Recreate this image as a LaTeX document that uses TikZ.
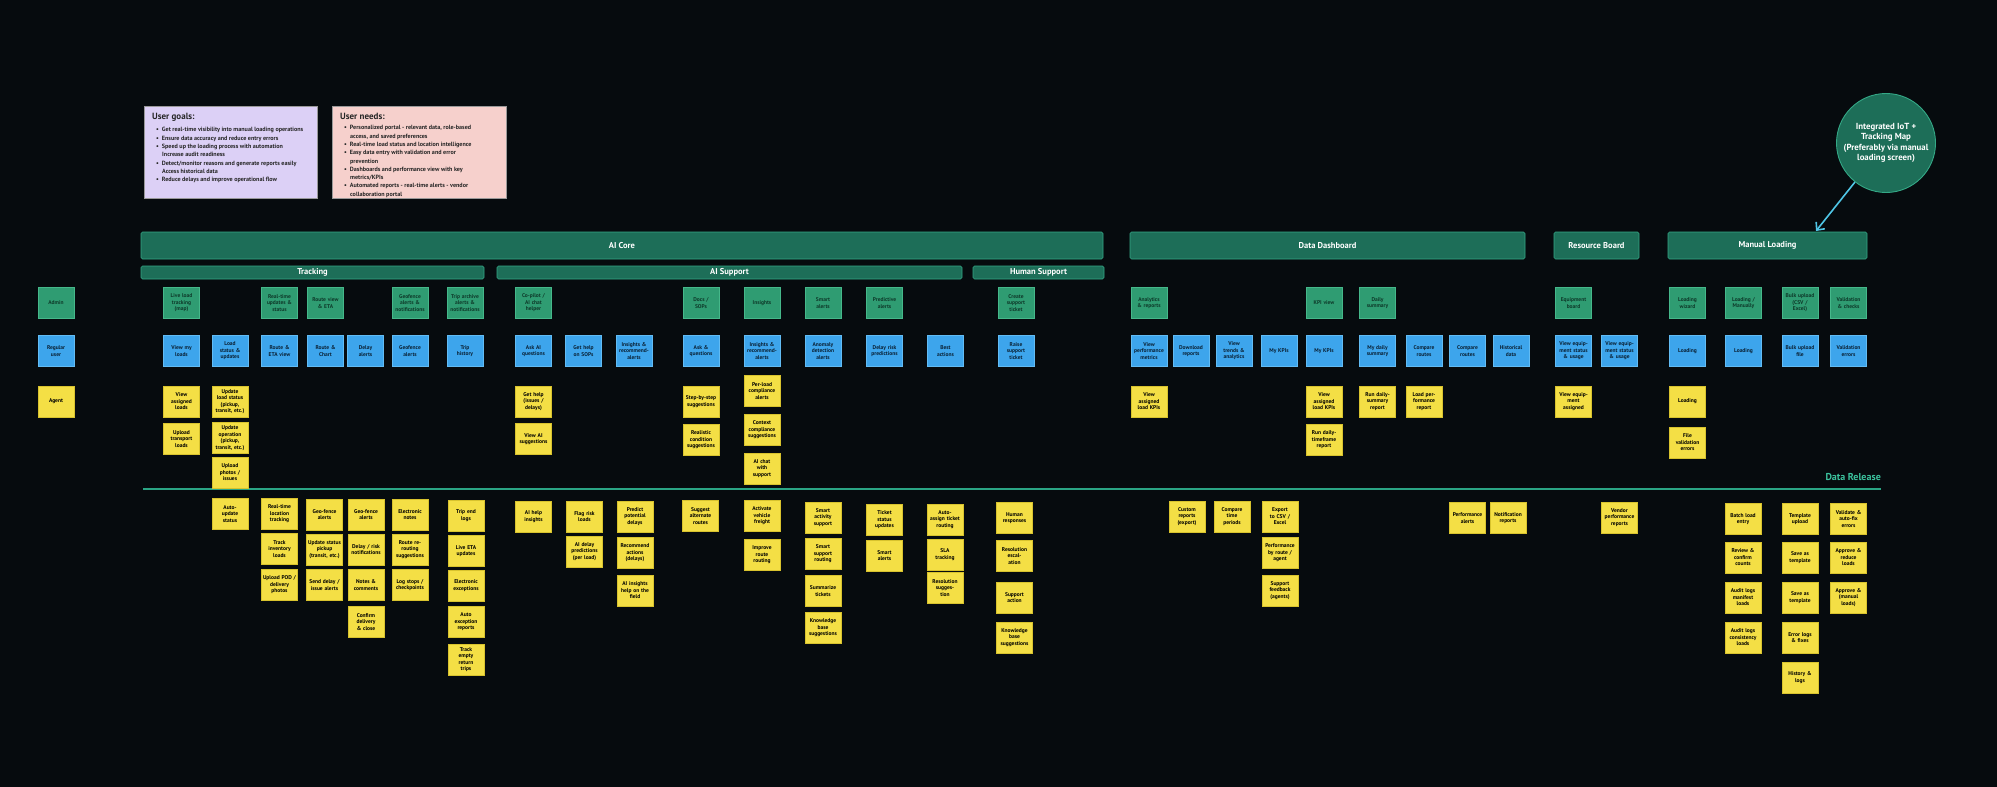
\documentclass[tikz,border=0pt]{standalone}
\usepackage{fontspec}
\setmainfont{PT Sans}
\usetikzlibrary{arrows.meta}
\definecolor{bgc}{HTML}{060B0E}
\definecolor{sgreen}{HTML}{2F9C72}
\definecolor{sgreenb}{HTML}{45B88A}
\definecolor{sgreent}{HTML}{0E3A2A}
\definecolor{sblue}{HTML}{3DA5EC}
\definecolor{sblueb}{HTML}{62BCF4}
\definecolor{sbluet}{HTML}{0A2236}
\definecolor{syellow}{HTML}{F4DF45}
\definecolor{syellowb}{HTML}{D8C32E}
\definecolor{hdrfill}{HTML}{1D6E58}
\definecolor{hdrdraw}{HTML}{34A886}
\definecolor{relc}{HTML}{2AA584}
\definecolor{reltxt}{HTML}{3CC39E}
\definecolor{goalc}{HTML}{DCD0F6}
\definecolor{needc}{HTML}{F6D0CC}
\definecolor{arrc}{HTML}{4FC6E6}
\newcommand\stickyat[5]{\node[#1] (#2) at (#3,#4) {#5};}
\begin{document}
\begin{tikzpicture}[x=1pt,y=-1pt,
  sticky/.style={minimum width=36pt, minimum height=31pt, inner xsep=1pt, inner ysep=1pt,
    text width=34pt, align=center, line width=0.6pt,
    font=\fontsize{5.5}{6.5}\selectfont\bfseries},
  gs/.style={sticky, fill=sgreen, draw=sgreenb, text=sgreent},
  bs/.style={sticky, fill=sblue, draw=sblueb, text=sbluet},
  ys/.style={sticky, fill=syellow, draw=syellowb, text=black},
  hdr/.style={fill=hdrfill, draw=hdrdraw, line width=0.6pt, rounded corners=1.5pt,
    text=white, inner sep=0pt, font=\fontsize{8.5}{10}\selectfont\bfseries},
  goalbox/.style={draw=black!40, line width=0.4pt, inner sep=0pt},
  goaltext/.style={anchor=north west, inner sep=0pt, align=left, text=black!85,
    font=\fontsize{6.1}{8.3}\selectfont\bfseries}
]
\fill[bgc] (0,0) rectangle (1997,787);
\useasboundingbox (0,0) rectangle (1997,787);

% goal boxes
\node[goalbox, fill=goalc, minimum width=173pt, minimum height=92pt] (goals) at (230.5,152) {};
\node[goaltext] (goalstxt) at (152,113) {{\fontsize{9}{11}\selectfont User goals:}\\[4pt]
\hspace*{4pt}\textbullet\hspace{3pt}Get real-time visibility into manual loading operations\\
\hspace*{4pt}\textbullet\hspace{3pt}Ensure data accuracy and reduce entry errors\\
\hspace*{4pt}\textbullet\hspace{3pt}Speed up the loading process with automation\\
\hspace*{10pt}Increase audit readiness\\
\hspace*{4pt}\textbullet\hspace{3pt}Detect/monitor reasons and generate reports easily\\
\hspace*{10pt}Access historical data\\
\hspace*{4pt}\textbullet\hspace{3pt}Reduce delays and improve operational flow};
\node[goalbox, fill=needc, minimum width=174pt, minimum height=92pt] (needs) at (419,152) {};
\node[goaltext] (needstxt) at (340,113) {{\fontsize{9}{11}\selectfont User needs:}\\[2pt]
\hspace*{4pt}\textbullet\hspace{3pt}Personalized portal - relevant data, role-based\\
\hspace*{10pt}access, and saved preferences\\
\hspace*{4pt}\textbullet\hspace{3pt}Real-time load status and location intelligence\\
\hspace*{4pt}\textbullet\hspace{3pt}Easy data entry with validation and error\\
\hspace*{10pt}prevention\\
\hspace*{4pt}\textbullet\hspace{3pt}Dashboards and performance view with key\\
\hspace*{10pt}metrics/KPIs\\
\hspace*{4pt}\textbullet\hspace{3pt}Automated reports - real-time alerts - vendor\\
\hspace*{10pt}collaboration portal};

% headers
\node[hdr, minimum width=962pt, minimum height=27pt] (aicore) at (622,245.5) {AI Core};
\node[hdr, minimum width=343pt, minimum height=13pt] (tracking) at (312.5,272.5) {Tracking};
\node[hdr, minimum width=465pt, minimum height=13pt] (aisupport) at (729.5,272.5) {AI Support};
\node[hdr, minimum width=131pt, minimum height=13pt] (humansup) at (1038.5,272.5) {Human Support};
\node[hdr, minimum width=395pt, minimum height=27pt] (datadash) at (1327.5,245.5) {Data Dashboard};
\node[hdr, minimum width=85pt, minimum height=27pt] (resboard) at (1596.5,245.5) {Resource Board};
\node[hdr, minimum width=199pt, minimum height=27pt] (manload) at (1767.5,245.5) {Manual Loading};

% IoT circle and arrow
\node[circle, fill=hdrfill, draw=hdrdraw, line width=0.9pt, minimum size=99pt, inner sep=0pt, align=center,
  text=white, font=\fontsize{8.8}{10.5}\selectfont\bfseries] (iot) at (1886,143)
  {Integrated IoT +\\Tracking Map\\(Preferably via manual\\loading screen)};
\coordinate (iottip) at (1816,231);
\draw[arrc, line width=1.6pt, -{Straight Barb[length=6pt,width=11pt]}] (iot) -- (iottip);

% data release line
\coordinate (relL) at (143,489);
\coordinate (relR) at (1881,489);
\draw[relc, line width=1.4pt] (relL) -- (relR);
\node[anchor=south east, inner sep=0pt, text=reltxt, font=\fontsize{10}{12}\selectfont\bfseries] (reltext) at (1881,481) {Data Release};

% roles
\stickyat{gs}{admin}{56}{303}{Admin}
\stickyat{bs}{reguser}{56}{351}{Regular\\user}
\stickyat{ys}{agent}{56}{401.5}{Agent}

% Tracking
\stickyat{gs}{tg1}{181.5}{303}{Live load\\tracking\\(map)}
\stickyat{gs}{tg2}{279.5}{303}{Real-time\\updates \&\\status}
\stickyat{gs}{tg3}{325.5}{303}{Route view\\\& ETA}
\stickyat{gs}{tg4}{410}{303}{Geofence\\alerts \&\\notifications}
\stickyat{gs}{tg5}{465}{303}{Trip archive\\alerts \&\\notifications}
\stickyat{bs}{tb1}{181.5}{351}{View my\\loads}
\stickyat{bs}{tb2}{230}{351}{Load\\status \&\\updates}
\stickyat{bs}{tb3}{279.5}{351}{Route \&\\ETA view}
\stickyat{bs}{tb4}{325.5}{351}{Route \&\\Chart}
\stickyat{bs}{tb5}{365.5}{351}{Delay\\alerts}
\stickyat{bs}{tb6}{410}{351}{Geofence\\alerts}
\stickyat{bs}{tb7}{465}{351}{Trip\\history}
\stickyat{ys}{ty1}{181.5}{401.5}{View\\assigned\\loads}
\stickyat{ys}{ty2}{181.5}{439}{Upload\\transport\\loads}
\stickyat{ys}{ty3}{230}{401.5}{Update\\load status\\(pickup,\\transit, etc.)}
\stickyat{ys}{ty4}{230}{438}{Update\\operation\\(pickup,\\transit, etc.)}
\stickyat{ys}{ty5}{230}{472.5}{Upload\\photos /\\issues}
\stickyat{ys}{tr1}{230}{514}{Auto-\\update\\status}
\stickyat{ys}{tr2}{279.5}{514}{Real-time\\location\\tracking}
\stickyat{ys}{tr3}{279.5}{549}{Track\\inventory\\loads}
\stickyat{ys}{tr4}{279.5}{585}{Upload POD /\\delivery\\photos}
\stickyat{ys}{tr5}{324.5}{514.5}{Geo-fence\\alerts}
\stickyat{ys}{tr6}{324.5}{549.5}{Update status\\pickup\\(transit, etc.)}
\stickyat{ys}{tr7}{324.5}{585}{Send delay /\\issue alerts}
\stickyat{ys}{tr8}{366}{514.5}{Geo-fence\\alerts}
\stickyat{ys}{tr9}{366}{549.5}{Delay / risk\\notifications}
\stickyat{ys}{tr10}{366}{585}{Notes \&\\comments}
\stickyat{ys}{tr11}{366}{622}{Confirm\\delivery\\\& close}
\stickyat{ys}{tr12}{410}{514.5}{Electronic\\notes}
\stickyat{ys}{tr13}{410}{549.5}{Route re-\\routing\\suggestions}
\stickyat{ys}{tr14}{410}{585}{Log stops /\\checkpoints}
\stickyat{ys}{tr15}{466}{515.5}{Trip end\\logs}
\stickyat{ys}{tr16}{466}{551}{Live ETA\\updates}
\stickyat{ys}{tr17}{466}{585.5}{Electronic\\exceptions}
\stickyat{ys}{tr18}{466}{622}{Auto\\exception\\reports}
\stickyat{ys}{tr19}{466}{659.5}{Track\\empty\\return\\trips}

% AI Support
\stickyat{gs}{ag1}{533.5}{303}{Co-pilot /\\AI chat\\helper}
\stickyat{gs}{ag2}{701}{303}{Docs /\\SOPs}
\stickyat{gs}{ag3}{762}{303}{Insights}
\stickyat{gs}{ag4}{823}{303}{Smart\\alerts}
\stickyat{gs}{ag5}{884.5}{303}{Predictive\\alerts}
\stickyat{bs}{ab1}{533.5}{351}{Ask AI\\questions}
\stickyat{bs}{ab2}{583.5}{351}{Get help\\on SOPs}
\stickyat{bs}{ab3}{634}{351}{Insights \&\\recommend-\\alerts}
\stickyat{bs}{ab4}{701}{351}{Ask \&\\questions}
\stickyat{bs}{ab5}{762}{351}{Insights \&\\recommend-\\alerts}
\stickyat{bs}{ab6}{823}{351}{Anomaly\\detection\\alerts}
\stickyat{bs}{ab7}{884.5}{351}{Delay risk\\predictions}
\stickyat{bs}{ab8}{945.5}{351}{Best\\actions}
\stickyat{ys}{ay1}{533.5}{401.5}{Get help\\(issues /\\delays)}
\stickyat{ys}{ay2}{533.5}{439}{View AI\\suggestions}
\stickyat{ys}{ay3}{701}{401.5}{Step-by-step\\suggestions}
\stickyat{ys}{ay4}{701}{440}{Realistic\\condition\\suggestions}
\stickyat{ys}{ay5}{762}{391}{Per-load\\compliance\\alerts}
\stickyat{ys}{ay6}{762}{430}{Context\\compliance\\suggestions}
\stickyat{ys}{ay7}{762}{468.5}{AI chat\\with\\support}
\stickyat{ys}{ar1}{533.5}{516.5}{AI help\\insights}
\stickyat{ys}{ar2}{584.5}{516.5}{Flag risk\\loads}
\stickyat{ys}{ar3}{584.5}{551.5}{AI delay\\predictions\\(per load)}
\stickyat{ys}{ar4}{635}{516.5}{Predict\\potential\\delays}
\stickyat{ys}{ar5}{635}{553}{Recommend\\actions\\(delays)}
\stickyat{ys}{ar6}{635}{590.5}{AI insights\\help on the\\field}
\stickyat{ys}{ar7}{700.5}{516}{Suggest\\alternate\\routes}
\stickyat{ys}{ar8}{762}{516}{Activate\\vehicle\\freight}
\stickyat{ys}{ar9}{762}{555}{Improve\\route\\routing}
\stickyat{ys}{ar10}{823}{517.5}{Smart\\activity\\support}
\stickyat{ys}{ar11}{823}{554}{Smart\\support\\routing}
\stickyat{ys}{ar12}{823}{591}{Summarize\\tickets}
\stickyat{ys}{ar13}{823}{628}{Knowledge\\base\\suggestions}
\stickyat{ys}{ar14}{884.5}{520}{Ticket\\status\\updates}
\stickyat{ys}{ar15}{884.5}{555.5}{Smart\\alerts}
\stickyat{ys}{ar16}{945}{519.5}{Auto-\\assign ticket\\routing}
\stickyat{ys}{ar17}{945}{554.5}{SLA\\tracking}
\stickyat{ys}{ar18}{945}{588}{Resolution\\sugges-\\tion}

% Human Support
\stickyat{gs}{hg1}{1016}{303}{Create\\support\\ticket}
\stickyat{bs}{hb1}{1016}{351}{Raise\\support\\ticket}
\stickyat{ys}{hr1}{1014.5}{518}{Human\\responses}
\stickyat{ys}{hr2}{1014.5}{556}{Resolution\\escal-\\ation}
\stickyat{ys}{hr3}{1014.5}{597.5}{Support\\action}
\stickyat{ys}{hr4}{1014.5}{637.5}{Knowledge\\base\\suggestions}

% Data Dashboard
\stickyat{gs}{dg1}{1149}{303}{Analytics\\\& reports}
\stickyat{gs}{dg2}{1324}{303}{KPI view}
\stickyat{gs}{dg3}{1377.5}{303}{Daily\\summary}
\stickyat{bs}{db1}{1149}{351}{View\\performance\\metrics}
\stickyat{bs}{db2}{1191}{351}{Download\\reports}
\stickyat{bs}{db3}{1234}{351}{View\\trends \&\\analytics}
\stickyat{bs}{db4}{1279}{351}{My KPIs}
\stickyat{bs}{db5}{1324}{351}{My KPIs}
\stickyat{bs}{db6}{1377.5}{351}{My daily\\summary}
\stickyat{bs}{db7}{1424}{351}{Compare\\routes}
\stickyat{bs}{db8}{1467.5}{351}{Compare\\routes}
\stickyat{bs}{db9}{1511}{351}{Historical\\data}
\stickyat{ys}{dy1}{1149}{401.5}{View\\assigned\\load KPIs}
\stickyat{ys}{dy2}{1324}{401.5}{View\\assigned\\load KPIs}
\stickyat{ys}{dy3}{1324}{440}{Run daily-\\timeframe\\report}
\stickyat{ys}{dy4}{1377.5}{401.5}{Run daily-\\summary\\report}
\stickyat{ys}{dy5}{1424}{401.5}{Load per-\\formance\\report}
\stickyat{ys}{dr1}{1187}{516.5}{Custom\\reports\\(export)}
\stickyat{ys}{dr2}{1232}{516.5}{Compare\\time\\periods}
\stickyat{ys}{dr3}{1280}{516.5}{Export\\to CSV /\\Excel}
\stickyat{ys}{dr4}{1280}{553}{Performance\\by route /\\agent}
\stickyat{ys}{dr5}{1280}{590.5}{Support\\feedback\\(agents)}
\stickyat{ys}{dr6}{1467.5}{518}{Performance\\alerts}
\stickyat{ys}{dr7}{1508}{518}{Notification\\reports}

% Resource Board
\stickyat{gs}{rg1}{1573.5}{303}{Equipment\\board}
\stickyat{bs}{rb1}{1573.5}{351}{View equip-\\ment status\\\& usage}
\stickyat{bs}{rb2}{1619.5}{351}{View equip-\\ment status\\\& usage}
\stickyat{ys}{ry1}{1573.5}{401.5}{View equip-\\ment\\assigned}
\stickyat{ys}{rr1}{1619.5}{517.5}{Vendor\\performance\\reports}

% Manual Loading
\stickyat{gs}{mg1}{1687.5}{303}{Loading\\wizard}
\stickyat{gs}{mg2}{1743.5}{303}{Loading /\\Manually}
\stickyat{gs}{mg3}{1800}{303}{Bulk upload\\(CSV /\\Excel)}
\stickyat{gs}{mg4}{1848.5}{303}{Validation\\\& checks}
\stickyat{bs}{mb1}{1687.5}{351}{Loading}
\stickyat{bs}{mb2}{1743.5}{351}{Loading}
\stickyat{bs}{mb3}{1800}{351}{Bulk upload\\file}
\stickyat{bs}{mb4}{1848.5}{351}{Validation\\errors}
\stickyat{ys}{my1}{1687.5}{401.5}{Loading}
\stickyat{ys}{my2}{1687.5}{442.5}{File\\validation\\errors}
\stickyat{ys}{mr1}{1743}{519}{Batch load\\entry}
\stickyat{ys}{mr2}{1743}{557.5}{Review \&\\confirm\\counts}
\stickyat{ys}{mr3}{1743}{597.5}{Audit logs\\manifest\\loads}
\stickyat{ys}{mr4}{1743}{637.5}{Audit logs\\consistency\\loads}
\stickyat{ys}{mr5}{1800}{519}{Template\\upload}
\stickyat{ys}{mr6}{1800}{557.5}{Save as\\template}
\stickyat{ys}{mr7}{1800}{597.5}{Save as\\template}
\stickyat{ys}{mr8}{1800}{637.5}{Error logs\\\& fixes}
\stickyat{ys}{mr9}{1800}{677.5}{History \&\\logs}
\stickyat{ys}{mr10}{1848.5}{519}{Validate \&\\auto-fix\\errors}
\stickyat{ys}{mr11}{1848.5}{557.5}{Approve \&\\reduce\\loads}
\stickyat{ys}{mr12}{1848.5}{597.5}{Approve \&\\(manual\\loads)}
\end{tikzpicture}
\end{document}
